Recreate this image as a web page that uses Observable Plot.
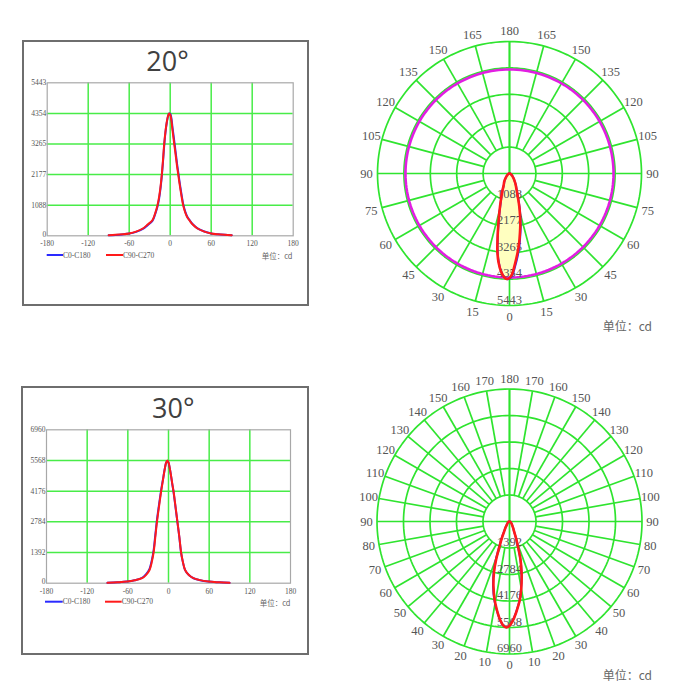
<!DOCTYPE html>
<html><head><meta charset="utf-8">
<script src="https://cdn.jsdelivr.net/npm/d3@7"></script>
<script src="https://cdn.jsdelivr.net/npm/@observablehq/plot@0.6"></script>
<style>
body{margin:0;background:#fff;}
#root{position:relative;width:700px;height:700px;overflow:hidden;}
.box{position:absolute;border:2px solid #6e6e6e;box-sizing:border-box;background:#fff;}
.chart{position:absolute;}
.chart svg{display:block;overflow:visible;}
#overlay{position:absolute;left:0;top:0;pointer-events:none;}
</style></head><body><div id="root"></div>
<script>
// ---------- data ----------
const xTicks = [-180, -120, -60, 0, 60, 120, 180];
const yTicks20 = [0, 1088, 2177, 3265, 4354, 5443];
const yTicks30 = [0, 1392, 2784, 4176, 5568, 6960];
const polarTicks20 = [0, 15, 30, 45, 60, 75, 90, 105, 120, 135, 150, 165, 180];
const polarTicks30 = [0, 10, 20, 30, 40, 50, 60, 70, 80, 90, 100, 110, 120, 130, 140, 150, 160, 170, 180];
const seriesNames = ["C0-C180", "C90-C270"];
const titles = ["20°", "30°"];

const ang20 = [-90,-80,-70,-60,-50,-40,-33,-26,-22,-18.6,-16,-14,-12.3,-10.5,-8.8,-7,-5,-3,-1.5,0,1.5,3.4,5.9,8,10,11.8,14,16.5,19,22,25,28,33,40,50,60,70,80,90];
const red20 = [20,33,52,83,150,260,400,555,800,1088,1420,1780,2177,2700,3265,3700,4050,4280,4354,4310,4150,3750,3265,2870,2480,2177,1800,1420,1088,830,660,555,400,260,150,83,52,33,20];
const blue20 = [18,30,48,78,140,245,380,530,770,1040,1360,1720,2120,2650,3200,3660,4030,4270,4350,4340,4220,3850,3380,2970,2570,2260,1870,1480,1130,860,680,570,410,265,152,84,52,33,20];
const magenta20 = 4290;

const ang30 = [-90,-75,-61,-50,-39,-33,-28,-25,-22,-19.5,-17,-14,-10.8,-9,-7.4,-5.5,-3.5,-1.7,0,2,4,5.5,7.4,10,13.2,16,18.6,21,24.5,30,36.8,45,59,75,90];
const red30 = [15,40,75,130,226,380,600,920,1392,2080,2784,3480,4176,4520,4830,5180,5470,5568,5480,5200,4830,4530,4176,3560,2784,2100,1392,1000,600,370,226,150,75,40,15];
const blue30 = [15,40,75,135,240,410,650,990,1480,2180,2880,3560,4230,4560,4850,5190,5470,5560,5470,5190,4810,4510,4150,3530,2760,2080,1380,990,595,368,224,148,74,40,15];

// ---------- styles ----------
const LGREEN = "#48ec48";
const PGREEN = "#2fe42f";
const RED = "#ff1a1a";
const BLUE = "#2a2aff";
const TXT = "#555";

const root = document.getElementById("root");

function addBox(l, t, w, h) {
  const d = document.createElement("div");
  d.className = "box";
  Object.assign(d.style, {left: l + "px", top: t + "px", width: w + "px", height: h + "px"});
  root.appendChild(d);
}
function place(node, l, t) {
  const d = document.createElement("div");
  d.className = "chart";
  d.style.left = l + "px"; d.style.top = t + "px";
  d.appendChild(node);
  root.appendChild(d);
}

function lineChart({left, top, width, height, mL, mR, mT, mB, yTicks, angles, red, blue}) {
  const redPts = angles.map((a, i) => ({a, v: red[i]}));
  const bluePts = angles.map((a, i) => ({a, v: blue[i]}));
  const chart = Plot.plot({
    width, height,
    marginLeft: mL, marginRight: mR, marginTop: mT, marginBottom: mB,
    style: {fontFamily: "'Liberation Serif', serif", fontSize: "7.5px", color: TXT, background: "transparent"},
    x: {domain: [-180, 180], label: null},
    y: {domain: [0, yTicks[yTicks.length - 1]], label: null},
    marks: [
      Plot.ruleX(xTicks.slice(1, -1), {stroke: LGREEN, strokeWidth: 1.5}),
      Plot.ruleY(yTicks.slice(1, -1), {stroke: LGREEN, strokeWidth: 1.5}),
      Plot.frame({stroke: "#a8a8a8", strokeWidth: 1.2}),
      Plot.axisX({ticks: xTicks, tickSize: 0, tickPadding: 5, tickFormat: d => String(d), label: null}),
      Plot.axisY({ticks: yTicks.slice(1), tickSize: 0, tickPadding: 1, tickFormat: d => String(d), label: null}),
      Plot.axisY({ticks: [0], tickSize: 0, tickPadding: 1, dy: -1.5, tickFormat: d => String(d), label: null}),
      Plot.line(bluePts, {x: "a", y: "v", stroke: BLUE, strokeWidth: 2, curve: "catmull-rom"}),
      Plot.line(redPts, {x: "a", y: "v", stroke: RED, strokeWidth: 2, curve: "catmull-rom"})
    ]
  });
  place(chart, left, top);
}

function polarChart({left, top, size, rPx, rings, ticks, angles, red, blue, fill, magenta}) {
  const rmax = rings[rings.length - 1];
  const D = rmax * (size / 2) / rPx;
  const rad = a => a * Math.PI / 180;
  const px = (a, v) => v * Math.sin(rad(a));
  const py = (a, v) => -v * Math.cos(rad(a));
  const circleAngles = d3.range(0, 361, 2);
  const ringPts = rings.flatMap(r => circleAngles.map(a => ({r, a})));
  const spokeAngles = Array.from(new Set(ticks.flatMap(t => [t, -t])));
  const spokes = spokeAngles.map(a => ({a, r0: (Math.abs(a) % 90 === 0) ? 0 : rings[0]}));
  const labelV = rmax * 143 / rPx;
  const labels = spokeAngles.filter(a => a !== -180).map(a => ({a, t: String(Math.abs(a))}));
  const redPts = angles.map((a, i) => ({a, v: red[i]}));
  const bluePts = angles.map((a, i) => ({a, v: blue[i]}));
  const X = d => px(d.a, d.v), Y = d => py(d.a, d.v);
  const marks = [
    Plot.line(ringPts, {x: d => px(d.a, d.r), y: d => py(d.a, d.r), z: "r", stroke: PGREEN, strokeWidth: 1.7}),
    Plot.link(spokes, {x1: d => px(d.a, d.r0), y1: d => py(d.a, d.r0), x2: d => px(d.a, rmax), y2: d => py(d.a, rmax), stroke: PGREEN, strokeWidth: 1.7})
  ];
  if (fill) marks.push(Plot.line(redPts, {x: X, y: Y, fill: fill, stroke: "none", curve: "catmull-rom"}));
  if (magenta) {
    const magPts = circleAngles.map(a => ({a, v: magenta}));
    marks.push(Plot.line(magPts, {x: X, y: Y, stroke: "#e21ee2", strokeWidth: 2.6}));
  }
  marks.push(
    Plot.text(rings, {x: 0, y: d => -d, text: d => String(d), dy: -6, fontSize: 12.5, fill: TXT}),
    Plot.line(bluePts, {x: X, y: Y, stroke: BLUE, strokeWidth: 2, curve: "catmull-rom"}),
    Plot.line(redPts, {x: X, y: Y, stroke: RED, strokeWidth: 2.6, curve: "catmull-rom"}),
    Plot.text(labels, {x: d => px(d.a, labelV), y: d => py(d.a, labelV), text: "t", fontSize: 12.5, fill: TXT})
  );
  const chart = Plot.plot({
    width: size, height: size,
    margin: 0,
    style: {fontFamily: "'Liberation Serif', serif", background: "transparent"},
    x: {domain: [-D, D], axis: null},
    y: {domain: [-D, D], axis: null},
    marks
  });
  place(chart, left, top);
}

// boxes
addBox(22, 40, 287, 266);
addBox(21, 386, 288, 269);

lineChart({left: 22, top: 76, width: 284, height: 190, mL: 24.7, mR: 13.3, mT: 6.3, mB: 30.7, yTicks: yTicks20, angles: ang20, red: red20, blue: blue20});
lineChart({left: 22, top: 423, width: 284, height: 190, mL: 24, mR: 16, mT: 6.3, mB: 30.3, yTicks: yTicks30, angles: ang30, red: red30, blue: blue30});

polarChart({left: 339, top: 3.3, size: 340, rPx: 132, rings: yTicks20.slice(1), ticks: polarTicks20, angles: ang20, red: red20, blue: blue20, fill: "#ffffc0", magenta: magenta20});
polarChart({left: 339, top: 350.7, size: 340, rPx: 132.5, rings: yTicks30.slice(1), ticks: polarTicks30, angles: ang30, red: red30, blue: blue30, fill: null, magenta: null});

// overlay: titles, legends, units
const ns = "http://www.w3.org/2000/svg";
const ov = document.createElementNS(ns, "svg");
ov.setAttribute("id", "overlay");
ov.setAttribute("width", 700); ov.setAttribute("height", 700);
root.appendChild(ov);
function txt(x, y, s, attrs) {
  const t = document.createElementNS(ns, "text");
  t.setAttribute("x", x); t.setAttribute("y", y);
  for (const k in attrs) t.setAttribute(k, attrs[k]);
  t.textContent = s; ov.appendChild(t);
}
function ln(x1, y1, x2, color) {
  const l = document.createElementNS(ns, "line");
  l.setAttribute("x1", x1); l.setAttribute("x2", x2); l.setAttribute("y1", y1); l.setAttribute("y2", y1);
  l.setAttribute("stroke", color); l.setAttribute("stroke-width", 2);
  ov.appendChild(l);
}
const titleAttrs = {"font-family": "'Open Sans', sans-serif", "font-size": 27, fill: "#404040", "text-anchor": "middle"};
txt(167.5, 71, titles[0], titleAttrs);
txt(173.3, 418.3, titles[1], titleAttrs);

const legAttrs = {"font-family": "'Liberation Serif', serif", "font-size": 7.5, fill: TXT};
const unitSmall = {"font-family": "'Noto Sans CJK SC', sans-serif", "font-size": 7.5, fill: "#666", "text-anchor": "end"};
// top legend
ln(46.7, 255, 63, BLUE); txt(63, 257.6, seriesNames[0], legAttrs);
ln(106, 255, 123, RED); txt(123, 257.6, seriesNames[1], legAttrs);
txt(292.5, 258.5, "单位：cd", unitSmall);
// bottom legend
ln(45, 601.7, 62.7, BLUE); txt(62.7, 604.3, seriesNames[0], legAttrs);
ln(105, 601.7, 121.7, RED); txt(121.7, 604.3, seriesNames[1], legAttrs);
txt(290.5, 605.5, "单位：cd", unitSmall);
// polar units
const unitBig = {"font-family": "'Noto Sans CJK SC', sans-serif", "font-size": 12, fill: "#666", "text-anchor": "end"};
txt(652, 330.5, "单位：cd", unitBig);
txt(652, 679.5, "单位：cd", unitBig);
</script></body></html>
